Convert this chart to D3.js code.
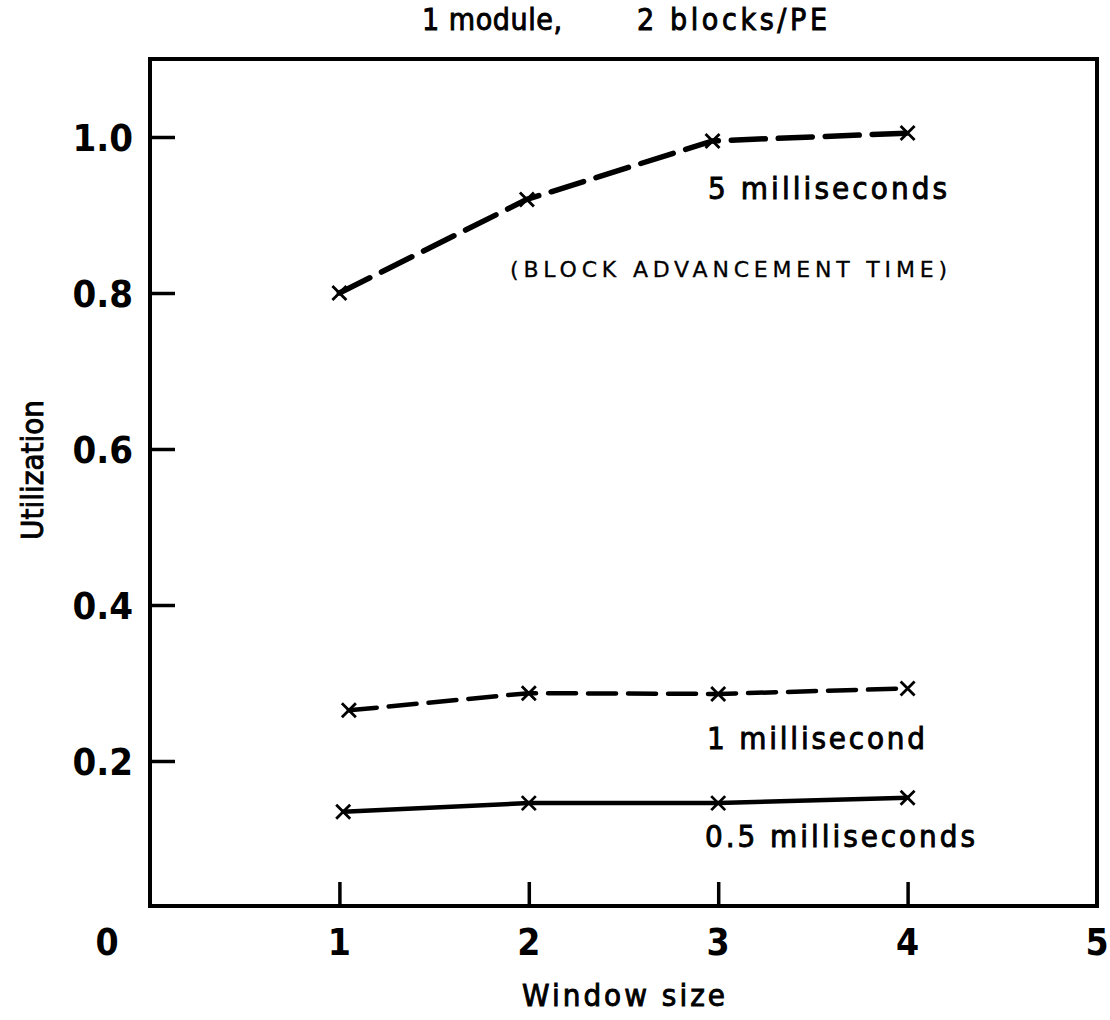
<!DOCTYPE html>
<html>
<head>
<meta charset="utf-8">
<script src="https://cdn.jsdelivr.net/npm/d3@7"></script>
<style>
  body { margin: 0; background: #fff; }
  svg { display: block; }
  text { font-family: "DejaVu Sans Condensed", "DejaVu Sans", sans-serif; fill: #000; }
</style>
</head>
<body>
<svg id="chart" width="1110" height="1020"></svg>
<script>
// values
const windowSize5 = [1.0, 1.99, 2.97, 4.0];
const util5 = [0.80, 0.92, 0.995, 1.005];
const windowSize1 = [1.05, 2.0, 3.0, 4.0];
const util1 = [0.265, 0.287, 0.286, 0.293];
const windowSize05 = [1.02, 2.0, 3.0, 4.0];
const util05 = [0.135, 0.146, 0.146, 0.153];

const xTicks = [1, 2, 3, 4];
const xLabels = [1, 2, 3, 4, 5];
const yTicks = [0.2, 0.4, 0.6, 0.8, 1.0];

const svg = d3.select("#chart");
const x = d3.scaleLinear().domain([0, 5]).range([150, 1097]);
const y = d3.scaleLinear().domain([0, 1.1]).range([917, 59]);
const bottom = 906;

// put a text at a given start, size and width
function label(str, tx, ty, size, len, opts) {
  opts = opts || {};
  const t = svg.append("text")
    .attr("x", tx).attr("y", ty)
    .attr("font-size", size)
    .attr("text-anchor", opts.anchor || "start")
    .attr("font-weight", opts.weight || "normal")
    .text(str);
  if (len) t.attr("textLength", len).attr("lengthAdjust", opts.adjust || "spacing");
  if (opts.heavy) t.attr("stroke", "#000").attr("stroke-width", opts.heavy);
  if (opts.family) t.style("font-family", opts.family);
  if (opts.transform) t.attr("transform", opts.transform);
  return t;
}

// frame
svg.append("rect")
  .attr("x", x(0)).attr("y", y(1.1))
  .attr("width", x(5) - x(0)).attr("height", bottom - y(1.1))
  .attr("fill", "none").attr("stroke", "#000").attr("stroke-width", 4);

// y ticks, pointing inward
const yAxis = svg.append("g")
  .attr("transform", `translate(${x(0)},0)`)
  .call(d3.axisRight(y).tickValues(yTicks).tickSize(25).tickFormat(""));
yAxis.select(".domain").remove();
yAxis.selectAll("line").attr("stroke", "#000").attr("stroke-width", 3.5);

yTicks.forEach(function(d) {
  label(d3.format(".1f")(d), 133, y(d) + 14, 38, null, { anchor: "end", weight: "bold" });
});

// x ticks, pointing inward
const xAxis = svg.append("g")
  .attr("transform", `translate(0,${bottom})`)
  .call(d3.axisTop(x).tickValues(xTicks).tickSize(24).tickFormat(""));
xAxis.select(".domain").remove();
xAxis.selectAll("line").attr("stroke", "#000").attr("stroke-width", 3.5);

xLabels.forEach(function(d) {
  label(String(d), x(d), 955, 37, null, { anchor: "middle", weight: "bold" });
});
label("0", 107, 955, 37, null, { anchor: "middle", weight: "bold" });

// series
const series = [
  { xs: windowSize5, ys: util5, dash: "34,13", width: 5.5 },
  { xs: windowSize1, ys: util1, dash: "28,12", width: 4.5 },
  { xs: windowSize05, ys: util05, dash: null, width: 4.5 }
];
const line = d3.line()
  .x(function(d) { return x(d[0]); })
  .y(function(d) { return y(d[1]); });

series.forEach(function(s) {
  const pts = d3.zip(s.xs, s.ys);
  svg.append("path")
    .attr("d", line(pts))
    .attr("fill", "none").attr("stroke", "#000")
    .attr("stroke-width", s.width)
    .attr("stroke-linecap", "round")
    .attr("stroke-dasharray", s.dash);
  const r = 7;
  svg.append("g").selectAll("path").data(pts).enter().append("path")
    .attr("d", function(d) {
      const cx = x(d[0]), cy = y(d[1]);
      return "M" + (cx - r) + "," + (cy - r) + "L" + (cx + r) + "," + (cy + r) +
        "M" + (cx - r) + "," + (cy + r) + "L" + (cx + r) + "," + (cy - r);
    })
    .attr("stroke", "#000").attr("stroke-width", 2.8);
});

// texts
label("1 module,", 422, 30, 30, 140, { heavy: 0.9 });
label("2 blocks/PE", 637, 30, 30, 190, { heavy: 0.9 });

label("5 milliseconds", 708, 199, 31, 239, { heavy: 0.9 });
label("(BLOCK ADVANCEMENT TIME)", 510, 277, 22, 437, { family: "DejaVu Sans", heavy: 0.3 });
label("1 millisecond", 707, 749, 31, 218, { heavy: 0.9 });
label("0.5 milliseconds", 705, 847, 31, 270, { heavy: 0.9 });

label("Window size", 522, 1006, 31, 203, { heavy: 0.9 });
label("Utilization", 0, 0, 31, 140, { anchor: "middle", heavy: 0.9, transform: "translate(43,470) rotate(-90)" });
</script>
</body>
</html>
